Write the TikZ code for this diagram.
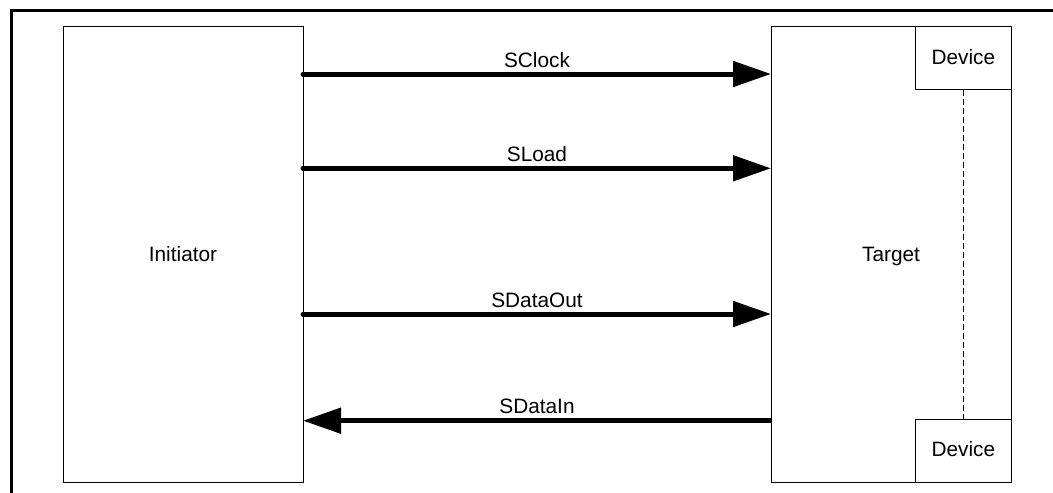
\documentclass[tikz,border=0pt]{standalone}
\usepackage{fontspec}
\setmainfont{Liberation Sans}
\usetikzlibrary{arrows.meta}
\begin{document}
\begin{tikzpicture}[x=1pt,y=-1pt,
  box/.style={draw=black, line width=1pt},
  sig/.style={line width=5pt, -{Triangle[length=38pt,width=25pt]}},
  lbl/.style={anchor=base, inner sep=0pt, font=\fontsize{20.8}{24}\selectfont}]
\useasboundingbox (0,0) rectangle (1053,493);
% outer frame (partially visible)
\draw[line width=3pt] (11.5,493) -- (11.5,10.5) -- (1053,10.5);
% main boxes
\draw[box] (63,26) rectangle (303,482);
\node[lbl] (ini) at (183,261) {Initiator};
\draw[box] (771,26) rectangle (1011.5,482);
\node[lbl] (tgt) at (891,261) {Target};
\draw[box] (915,26) rectangle (1011.5,89.5);
\node[lbl] (dev1) at (963.3,64) {Device};
\draw[box] (915,419.5) rectangle (1011.5,482);
\node[lbl] (dev2) at (963.3,456.7) {Device};
\coordinate (d1) at (963.3,89.5);
\coordinate (d2) at (963.3,419.5);
\draw[line width=1pt, dash pattern=on 6pt off 3pt] (d1) -- (d2);
% signals
\coordinate (a1) at (303,74);   \coordinate (b1) at (771,74);
\coordinate (a2) at (303,168.3);\coordinate (b2) at (771,168.3);
\coordinate (a3) at (303,314);  \coordinate (b3) at (771,314);
\coordinate (a4) at (303,420.7);\coordinate (b4) at (771,420.7);
\draw[sig, line cap=round] (a1) -- (b1);
\draw[sig, line cap=round] (a2) -- (b2);
\draw[sig, line cap=round] (a3) -- (b3);
\draw[sig] (b4) -- (a4);
\node[lbl] (l1) at (537,67) {SClock};
\node[lbl] (l2) at (537,161.3) {SLoad};
\node[lbl] (l3) at (537,307) {SDataOut};
\node[lbl] (l4) at (537,413.7) {SDataIn};
\end{tikzpicture}
\end{document}
